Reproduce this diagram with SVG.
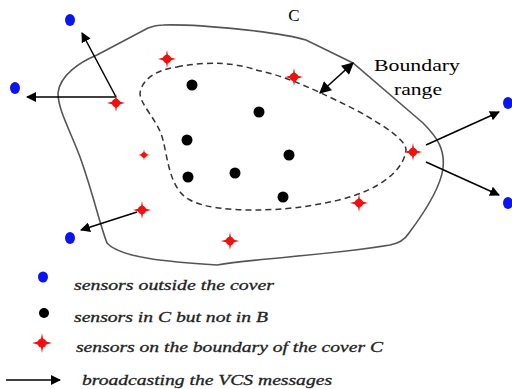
<svg xmlns="http://www.w3.org/2000/svg" width="512" height="389" viewBox="0 0 512 389">
<style>
.bnd{fill:none;stroke:#555;stroke-width:1.6}
.dsh{fill:none;stroke:#333;stroke-width:1.5;stroke-dasharray:6,4}
.blue{fill:#0a14f0}
.blk{fill:#000}
.red{fill:#f01010}
.arr{stroke:#000;stroke-width:1.5;fill:none;marker-end:url(#ah)}
.lbl{font-family:"Liberation Serif",serif;font-size:17px;fill:#000}
.leg{font-family:"Liberation Serif",serif;font-style:italic;font-size:15px;fill:#222;stroke:#222;stroke-width:0.3}
</style>
<defs>
<marker id="ah" viewBox="0 0 10 10" refX="9" refY="5" markerWidth="10" markerHeight="10" markerUnits="userSpaceOnUse" orient="auto-start-reverse"><path d="M0,0 L10,5 L0,10 Z" fill="#000"/></marker>
<marker id="ahb" viewBox="0 0 10 10" refX="9" refY="5" markerWidth="14" markerHeight="12" markerUnits="userSpaceOnUse" orient="auto-start-reverse"><path d="M0,0 L10,5 L0,10 Z" fill="#000"/></marker>
<g id="star"><path d="M0,-9 L1.3,-2 L9,0 L1.3,2 L0,9 L-1.3,2 L-9,0 L-1.3,-2 Z"/><circle r="4.2"/></g>
</defs>
<rect width="512" height="389" fill="#fff"/>
<g id="cover-C">
<path class="bnd" d="M163,25 C200,24 280,32 306,40 L353,63 L423,123 C438,138 445,150 443,168 C441,185 430,205 409,233 C404,241 398,243 390,245 C330,255 260,258 217,265 C170,262 120,258 107,243 C100,225 92,190 80,157 C70,130 58,110 58,93 C60,75 80,62 97,55 L148,28 C153,26 158,25 163,25 Z"/>
</g>
<g id="region-B">
<path class="dsh" d="M177,67 C210,60 240,64 256,70 C280,75 300,82 356,110 C385,126 406,140 406,150 C404,170 380,190 339,200 C310,207 280,210 256,210 C230,210 205,208 190,200 C170,190 168,160 163,140 C158,120 140,105 140,93 C142,80 155,70 177,67 Z"/>
</g>
<g id="connectors">
<line class="arr" x1="116" y1="97" x2="82" y2="33"/>
<line class="arr" x1="116" y1="97" x2="27" y2="97"/>
<line class="arr" x1="137" y1="212" x2="81" y2="230"/>
<line class="arr" x1="426" y1="145" x2="499" y2="112"/>
<line class="arr" x1="426" y1="162" x2="499" y2="195"/>
<line stroke="#000" stroke-width="1.6" x1="320" y1="93" x2="353" y2="63" marker-start="url(#ahb)" marker-end="url(#ahb)"/>
</g>
<g id="label-C"><text class="lbl" x="294" y="21" text-anchor="middle">C</text></g>
<g id="label-boundary-range">
<text class="lbl" x="374" y="71" textLength="86" lengthAdjust="spacingAndGlyphs">Boundary</text>
<text class="lbl" x="394" y="95" textLength="48" lengthAdjust="spacingAndGlyphs">range</text>
</g>
<g id="outside-sensors">
<ellipse class="blue" cx="70" cy="20" rx="5" ry="6"/>
<ellipse class="blue" cx="15" cy="88" rx="5" ry="6"/>
<ellipse class="blue" cx="70" cy="238" rx="5" ry="6"/>
<ellipse class="blue" cx="508" cy="103" rx="5" ry="6"/>
<ellipse class="blue" cx="508" cy="203" rx="5" ry="6"/>
</g>
<g id="inner-sensors">
<circle class="blk" cx="192" cy="85" r="5.5"/>
<circle class="blk" cx="259" cy="112" r="5.5"/>
<circle class="blk" cx="187" cy="140" r="5.5"/>
<circle class="blk" cx="188" cy="177" r="5.5"/>
<circle class="blk" cx="235" cy="173" r="5.5"/>
<circle class="blk" cx="289" cy="155" r="5.5"/>
<circle class="blk" cx="283" cy="197" r="5.5"/>
</g>
<g id="boundary-sensors" class="red">
<use href="#star" x="116" y="103"/>
<use href="#star" x="167" y="59"/>
<use href="#star" transform="translate(144,155) scale(0.65)"/>
<use href="#star" x="142" y="210"/>
<use href="#star" x="230" y="241"/>
<use href="#star" x="294" y="77"/>
<use href="#star" x="413" y="152"/>
<use href="#star" x="359" y="203"/>
</g>
<g id="legend">
<ellipse class="blue" cx="43" cy="277" rx="5" ry="5.5"/>
<text class="leg" x="74" y="290" textLength="200" lengthAdjust="spacingAndGlyphs">sensors outside the cover</text>
<circle class="blk" cx="44" cy="313" r="5"/>
<text class="leg" x="74" y="322" textLength="194" lengthAdjust="spacingAndGlyphs">sensors in C but not in B</text>
<use class="red" href="#star" transform="translate(42,343) scale(1.1)"/>
<text class="leg" x="76" y="352" textLength="307" lengthAdjust="spacingAndGlyphs">sensors on the boundary of the cover C</text>
<line class="arr" x1="6" y1="380" x2="60" y2="380"/>
<text class="leg" x="82" y="385" textLength="250" lengthAdjust="spacingAndGlyphs">broadcasting the VCS messages</text>
</g>
</svg>
